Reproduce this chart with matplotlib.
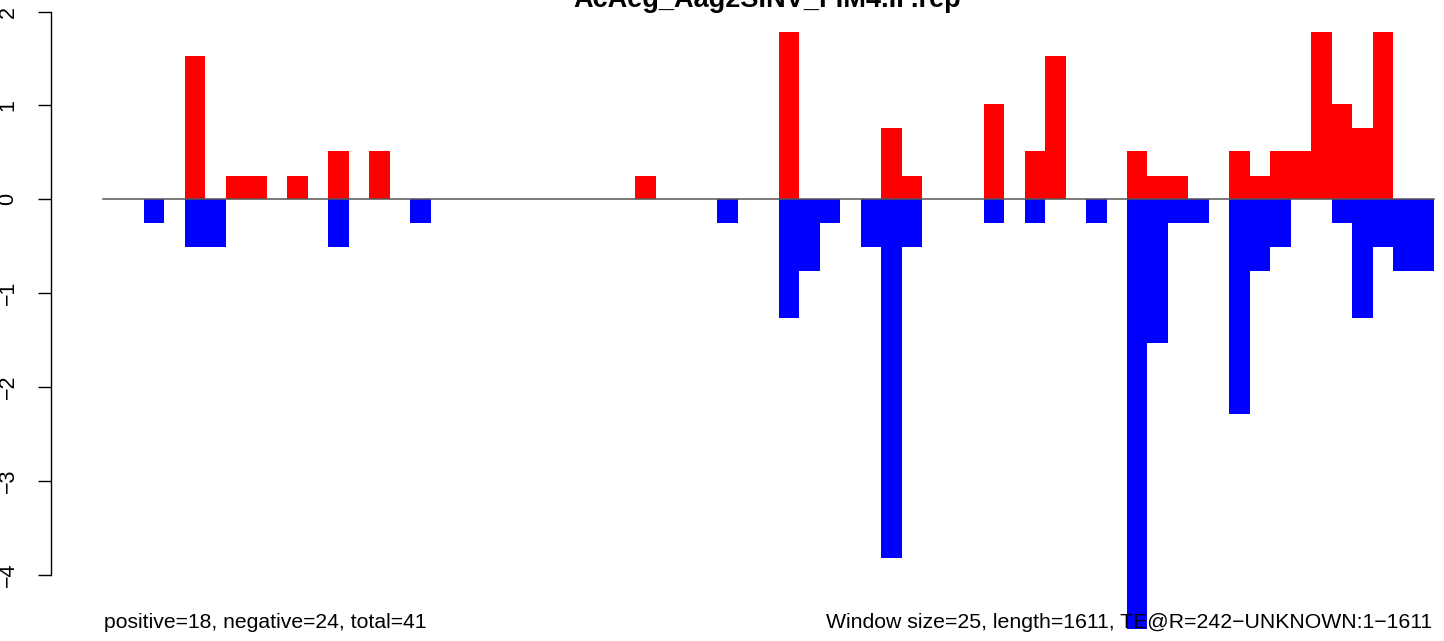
import matplotlib
matplotlib.use('Agg')
import matplotlib.pyplot as plt

plt.rcParams['font.family'] = ['Liberation Sans', 'DejaVu Sans']

# one value per 25 bp window, 65 windows
pos_vals = [0, 0, 0, 0, 1.53, 0, 0.25, 0.25, 0, 0.25,
            0, 0.51, 0, 0.51, 0, 0, 0, 0, 0, 0,
            0, 0, 0, 0, 0, 0, 0.25, 0, 0, 0,
            0, 0, 0, 1.78, 0, 0, 0, 0, 0.76, 0.25,
            0, 0, 0, 1.02, 0, 0.51, 1.53, 0, 0, 0,
            0.51, 0.25, 0.25, 0, 0, 0.51, 0.25, 0.51, 0.51, 1.78,
            1.02, 0.76, 1.78, 0, 0]
neg_vals = [0, 0, -0.25, 0, -0.51, -0.51, 0, 0, 0, 0,
            0, -0.51, 0, 0, 0, -0.25, 0, 0, 0, 0,
            0, 0, 0, 0, 0, 0, 0, 0, 0, 0,
            -0.25, 0, 0, -1.27, -0.76, -0.25, 0, -0.51, -3.82, -0.51,
            0, 0, 0, -0.25, 0, -0.25, 0, 0, -0.25, 0,
            -4.58, -1.53, -0.25, -0.25, 0, -2.29, -0.76, -0.51, 0, 0,
            -0.25, -1.27, -0.51, -0.76, -0.76]
yticks = [-4, -3, -2, -1, 0, 1, 2]

title = 'AcAeg_Aag2SINV_FIM4.IP.rep'
left_note = 'positive=18, negative=24, total=41'
right_note = 'Window size=25, length=1611, TE@R=242\u2212UNKNOWN:1\u22121611'

W, H = 1444, 641
fig = plt.figure(figsize=(W / 100, H / 100), dpi=100)
ax = fig.add_axes([0, 0, 1, 1])

# pixel layout: bar i starts at 103 + 20.48*i, y=0 at 199.3, 93.85 px per unit
bw_px = 20.48
x0_px = 103.0
xlim = (-x0_px / bw_px, (W - x0_px) / bw_px)
y0_px, upx = 199.3, 93.85
ylim = ((y0_px - H) / upx, y0_px / upx)
ax.set_xlim(*xlim)
ax.set_ylim(*ylim)

n = len(pos_vals)
xs = list(range(n))
ax.bar(xs, pos_vals, width=1, align='edge', color='#ff0000', linewidth=0)
ax.bar(xs, neg_vals, width=1, align='edge', color='#0000ff', linewidth=0)
ax.plot([0, n], [0, 0], color='#555555', lw=1.1)

for s in ['top', 'right', 'bottom']:
    ax.spines[s].set_visible(False)
ax.spines['left'].set_position(('data', (50.7 - x0_px) / bw_px))
ax.spines['left'].set_bounds(-4, 2)
ax.spines['left'].set_linewidth(1.0)
ax.set_xticks([])
ax.set_yticks(yticks)
ax.set_yticklabels(['\u2212' + str(-t) if t < 0 else str(t) for t in yticks])
ax.tick_params(axis='y', direction='out', length=9.6, width=1.0,
               pad=13.5, labelsize=15.5, labelrotation=90)
for lab in ax.get_yticklabels():
    lab.set_verticalalignment('center')

# title is clipped at the top edge, as in the original
fig.text(767 / W, 1 - 7 / H, title, ha='center', va='baseline',
         fontsize=19.5, fontweight='bold')
fig.text(104 / W, 1 - 628 / H, left_note, ha='left', va='baseline', fontsize=15.2)
fig.text(1432 / W, 1 - 628 / H, right_note, ha='right', va='baseline', fontsize=15.3)

fig.savefig('out.png', dpi=100)
